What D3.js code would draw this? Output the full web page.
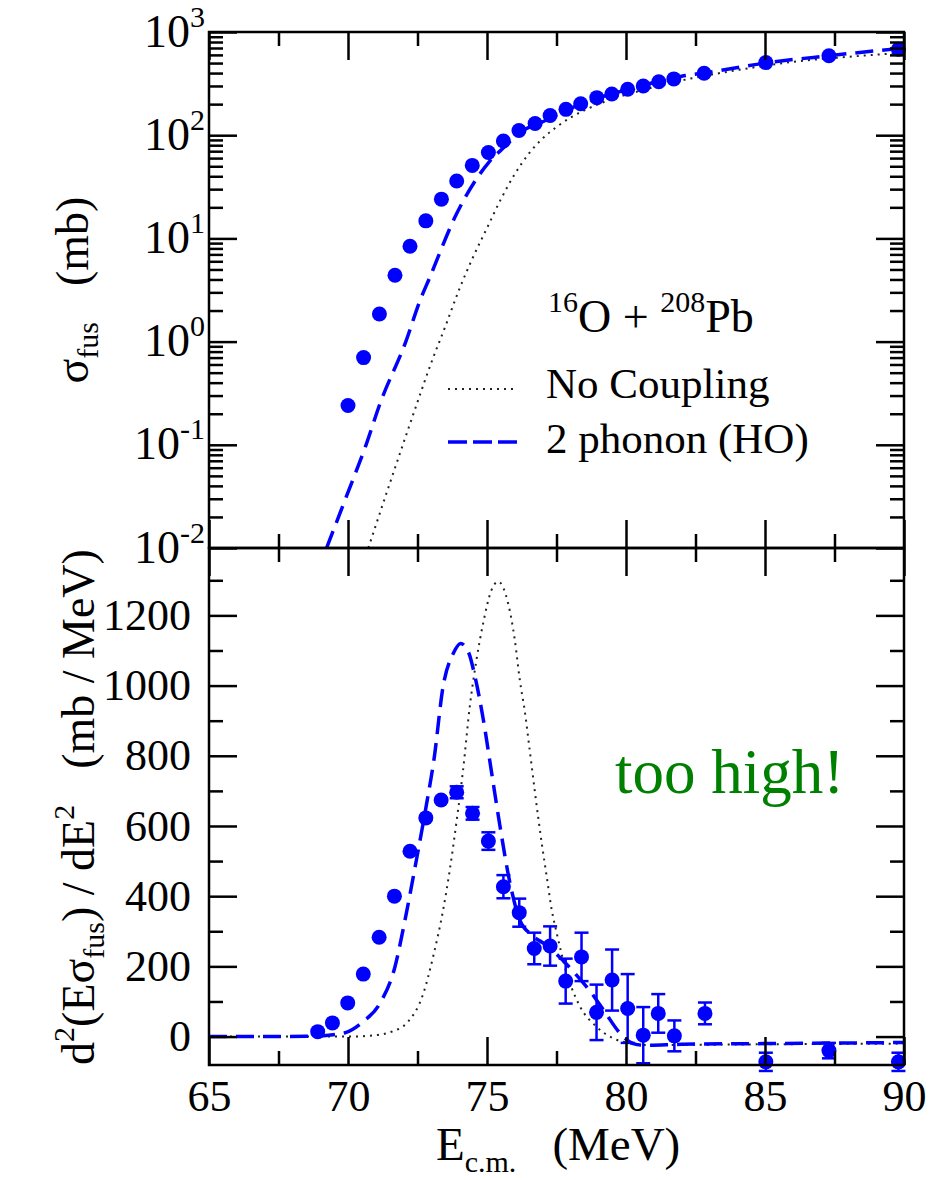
<!DOCTYPE html>
<html>
<head>
<meta charset="utf-8">
<script src="https://cdn.jsdelivr.net/npm/d3@7"></script>
<style>
  body { margin: 0; background: #fff; }
  svg text { font-family: "Liberation Serif", "Times New Roman", Tinos, "Nimbus Roman", "DejaVu Serif", serif; fill: #000; }
</style>
</head>
<body>
<svg id="chart" width="944" height="1180"></svg>
<script>
// fusion cross section data (mb)
let sigE = [70.0, 70.56, 71.13, 71.69, 72.23, 72.8, 73.36, 73.91, 74.47, 75.05, 75.59, 76.15, 76.73,
            77.27, 77.84, 78.37, 78.95, 79.49, 80.06, 80.62, 81.18, 81.72, 82.81, 85.03, 87.3, 89.8];
let sigVal = [0.24, 0.70, 1.85, 4.4, 8.4, 14.8, 24, 36, 51, 68, 88, 111, 130,
              155, 178, 202, 231, 251, 279, 300, 330, 351, 398, 505, 589, 680];

// barrier distribution data (mb / MeV)
let barE = [68.91, 69.44, 69.99, 70.55, 71.12, 71.67, 72.23, 72.8, 73.35, 73.91, 74.48, 75.05, 75.59, 76.16,
            76.7, 77.27, 77.83, 78.4, 78.94, 79.5, 80.06, 80.62, 81.16, 81.74, 82.84, 85.03, 87.3, 89.8];
let barVal = [14, 39, 96, 178, 283, 400, 528, 623, 674, 696, 636, 557, 427, 353,
              251, 258, 158, 227, 69, 161, 80, 4, 66, 2, 66, -72, -40, -72];
let barErr = [0, 0, 0, 0, 0, 0, 0, 0, 0, 17, 18, 25, 33, 40,
              45, 56, 64, 69, 79, 87, 98, 80, 55, 44, 31, 26, 22, 26];

// calculations, cross section
let noCoupE = [70.73, 71.5, 72.0, 72.5, 73.0, 73.5, 74.0, 74.5, 75.0, 75.5, 76.0, 76.5, 77.0,
               77.5, 78.0, 78.5, 79.5, 80.5, 82, 84, 86, 88, 90];
let noCoupSig = [0.01, 0.042, 0.105, 0.26, 0.63, 1.4, 3.2, 6.6, 12.6, 24, 42, 66, 93,
                 120, 148, 174, 224, 269, 339, 427, 513, 575, 630];
let phonE = [69.23, 69.95, 70.65, 71.15, 72.08, 72.59, 72.91, 73.91, 75.05, 75.65, 76.15, 77, 78,
             79, 80, 81, 82, 83, 85, 87.3, 90];
let phonSig = [0.01, 0.032, 0.1, 0.25, 1.0, 2.5, 4.0, 17.4, 54, 78, 105, 135, 182,
               229, 275, 324, 372, 407, 500, 589, 700];

// calculations, barrier distribution
let noCoupBarE = [65, 70, 71, 71.6, 72.11, 72.71, 73.06, 73.42, 73.66, 73.9, 74.14, 74.38, 74.62, 74.86,
                  75.16, 75.4, 75.76, 76.0, 76.18, 76.37, 76.55, 76.73, 76.97, 77.15, 77.33, 77.51, 77.87,
                  78.35, 78.94, 79.54, 80.2, 80.74, 85, 90];
let noCoupBarVal = [0, 0, 4, 15, 38, 123, 227, 360, 474, 610, 760, 940, 1073, 1177,
                    1272, 1296, 1234, 1130, 1016, 921, 807, 693, 550, 455, 360, 294, 180,
                    85, 28, -5, -20, -24, -22, -20];
let phonBarE = [65, 67.5, 68.5, 69.3, 69.94, 70.54, 71.15, 71.69, 72.05, 72.46, 72.82, 73.09, 73.42, 73.79,
                74.05, 74.33, 74.57, 74.87, 75.15, 75.47, 75.83, 76.19, 76.6, 77.14, 77.69, 78.22, 78.7,
                79.24, 79.78, 80.26, 80.7, 82, 85, 90];
let phonBarVal = [0, 0, 1, 4, 12, 42, 95, 199, 332, 503, 660, 788, 997, 1092,
                  1120, 1096, 1025, 902, 760, 598, 436, 330, 290, 260, 220, 175, 130,
                  70, 10, -20, -25, -22, -20, -17];

// ticks
let xTicks = [65, 70, 75, 80, 85, 90];
let xMinor = [67.5, 72.5, 77.5, 82.5, 87.5];
let logTicks = [1e-2, 1e-1, 1e0, 1e1, 1e2, 1e3];
let barTicks = [0, 200, 400, 600, 800, 1000, 1200];
let barMinor = [100, 300, 500, 700, 900, 1100, 1300];

let logMinor = [];
for (let e = -2; e < 3; e++) {
  for (let k = 2; k < 10; k++) logMinor.push(k * Math.pow(10, e));
}

let serif = '"Liberation Serif", "Times New Roman", Tinos, "Nimbus Roman", "DejaVu Serif", serif';
let svg = d3.select('#chart');
let plotL = 209, plotR = 904, topT = 32, midY = 548, botB = 1065;
let bigTick = 28, smallTick = 14;

let x = d3.scaleLinear().domain([65, 90]).range([plotL, plotR]);
let yTop = d3.scaleLog().domain([1e-2, 1e3]).range([midY, topT]);
let yBot = d3.scaleLinear().domain([-81, 1392]).range([botB, midY]);

let blue = '#0000ff';

// clip paths
let defs = svg.append('defs');
defs.append('clipPath').attr('id', 'clipTop').append('rect')
  .attr('x', plotL).attr('y', topT).attr('width', plotR - plotL).attr('height', midY - topT);
defs.append('clipPath').attr('id', 'clipBot').append('rect')
  .attr('x', plotL).attr('y', midY).attr('width', plotR - plotL).attr('height', botB - midY);

let lineTop = d3.line().x(d => x(d[0])).y(d => yTop(d[1])).curve(d3.curveMonotoneX);
let lineBot = d3.line().x(d => x(d[0])).y(d => yBot(d[1])).curve(d3.curveMonotoneX);

function dotted(sel) {
  sel.attr('fill', 'none').attr('stroke', '#222').attr('stroke-width', 2)
    .attr('stroke-dasharray', '2,5');
}
function dashed(sel) {
  sel.attr('fill', 'none').attr('stroke', blue).attr('stroke-width', 3.5)
    .attr('stroke-dasharray', '18,9');
}

// ---- top panel
let gTop = svg.append('g').attr('clip-path', 'url(#clipTop)');
gTop.append('path').attr('d', lineTop(d3.zip(noCoupE, noCoupSig))).call(dotted);
gTop.append('path').attr('d', lineTop(d3.zip(phonE, phonSig))).call(dashed);

svg.append('g').selectAll('circle')
  .data(d3.zip(sigE, sigVal))
  .enter().append('circle')
  .attr('cx', d => x(d[0]))
  .attr('cy', d => yTop(d[1]))
  .attr('r', 7.5)
  .attr('fill', blue);

// ---- bottom panel
let gBot = svg.append('g').attr('clip-path', 'url(#clipBot)');
gBot.append('path').attr('d', lineBot(d3.zip(noCoupBarE, noCoupBarVal))).call(dotted);
gBot.append('path').attr('d', lineBot(d3.zip(phonBarE, phonBarVal))).call(dashed);

let barData = barE.map((e, i) => ({e: e, v: barVal[i], err: barErr[i]}));
let errG = svg.append('g').attr('stroke', blue).attr('stroke-width', 2.5);
barData.filter(d => d.err > 0).forEach(function(d) {
  let cx = x(d.e);
  errG.append('line').attr('x1', cx).attr('x2', cx)
    .attr('y1', yBot(d.v - d.err)).attr('y2', yBot(d.v + d.err));
  errG.append('line').attr('x1', cx - 7).attr('x2', cx + 7)
    .attr('y1', yBot(d.v - d.err)).attr('y2', yBot(d.v - d.err));
  errG.append('line').attr('x1', cx - 7).attr('x2', cx + 7)
    .attr('y1', yBot(d.v + d.err)).attr('y2', yBot(d.v + d.err));
});
svg.append('g').selectAll('circle')
  .data(barData)
  .enter().append('circle')
  .attr('cx', d => x(d.e))
  .attr('cy', d => yBot(d.v))
  .attr('r', 7.5)
  .attr('fill', blue);

// ---- axes
function addAxis(axis, tx, ty, size, values, fmt) {
  let g = svg.append('g').attr('transform', 'translate(' + tx + ',' + ty + ')')
    .call(axis.tickValues(values).tickSize(-size).tickFormat(fmt || ''));
  g.select('.domain').remove();
  g.selectAll('line').attr('stroke', '#000').attr('stroke-width', 2.5);
  g.attr('font-family', serif).attr('font-size', 44);
  return g;
}

// top panel
addAxis(d3.axisTop(x), 0, topT, bigTick, xTicks);
addAxis(d3.axisTop(x), 0, topT, smallTick, xMinor);
addAxis(d3.axisBottom(x), 0, midY, bigTick, xTicks);
addAxis(d3.axisBottom(x), 0, midY, smallTick, xMinor);
addAxis(d3.axisRight(yTop), plotR, 0, bigTick, logTicks);
addAxis(d3.axisRight(yTop), plotR, 0, smallTick, logMinor);
addAxis(d3.axisLeft(yTop), plotL, 0, smallTick, logMinor);
let yTopAxis = addAxis(d3.axisLeft(yTop).tickPadding(4), plotL, 0, bigTick, logTicks, () => '');
yTopAxis.selectAll('.tick text').each(function(d) {
  let t = d3.select(this);
  t.append('tspan').attr('font-size', 46).text('10');
  t.append('tspan').attr('font-size', 30).attr('dy', -20).text(Math.round(Math.log10(d)));
});

// bottom panel
addAxis(d3.axisTop(x), 0, midY, bigTick, xTicks);
addAxis(d3.axisTop(x), 0, midY, smallTick, xMinor);
addAxis(d3.axisBottom(x).tickPadding(15), 0, botB, bigTick, xTicks, d3.format('d'));
addAxis(d3.axisBottom(x), 0, botB, smallTick, xMinor);
addAxis(d3.axisLeft(yBot).tickPadding(18), plotL, 0, bigTick, barTicks, d3.format('d'));
addAxis(d3.axisLeft(yBot), plotL, 0, smallTick, barMinor);
addAxis(d3.axisRight(yBot), plotR, 0, bigTick, barTicks);
addAxis(d3.axisRight(yBot), plotR, 0, smallTick, barMinor);

// frames
[[topT, midY], [midY, botB]].forEach(function(r) {
  svg.append('rect').attr('x', plotL).attr('y', r[0])
    .attr('width', plotR - plotL).attr('height', r[1] - r[0])
    .attr('fill', 'none').attr('stroke', '#000').attr('stroke-width', 2.5);
});

// ---- axis titles
let yt = svg.append('text').attr('transform', 'translate(88,290) rotate(-90)')
  .attr('text-anchor', 'middle').attr('font-size', 46);
yt.append('tspan').text('σ');
yt.append('tspan').attr('font-size', 30).attr('dy', 10).text('fus');
yt.append('tspan').attr('dx', 36).attr('dy', -10).text('(mb)');

let yb = svg.append('text').attr('transform', 'translate(94,807) rotate(-90)')
  .attr('text-anchor', 'middle').attr('font-size', 46);
yb.append('tspan').text('d');
yb.append('tspan').attr('font-size', 30).attr('dy', -20).text('2');
yb.append('tspan').attr('dy', 20).text('(Eσ');
yb.append('tspan').attr('font-size', 30).attr('dy', 10).text('fus');
yb.append('tspan').attr('dy', -10).text(') / dE');
yb.append('tspan').attr('font-size', 30).attr('dy', -20).text('2');
yb.append('tspan').attr('dx', 36).attr('dy', 20).text('(mb / MeV)');

let xt = svg.append('text').attr('x', 436).attr('y', 1160).attr('font-size', 47);
xt.append('tspan').text('E');
xt.append('tspan').attr('font-size', 30).attr('dy', 12).text('c.m.');
xt.append('tspan').attr('dx', 36).attr('dy', -12).text('(MeV)');

// ---- reaction label and legend
let rl = svg.append('text').attr('x', 548).attr('y', 332).attr('font-size', 46);
rl.append('tspan').attr('font-size', 30).attr('dy', -20).text('16');
rl.append('tspan').attr('dy', 20).text('O + ');
rl.append('tspan').attr('font-size', 30).attr('dy', -20).text('208');
rl.append('tspan').attr('dy', 20).text('Pb');

svg.append('line').attr('x1', 448).attr('x2', 517).attr('y1', 389).attr('y2', 389).call(dotted);
svg.append('text').attr('x', 546).attr('y', 398).attr('font-size', 43).text('No Coupling');
svg.append('line').attr('x1', 448).attr('x2', 517).attr('y1', 442).attr('y2', 442)
  .call(dashed).attr('stroke-dasharray', '19,6');
svg.append('text').attr('x', 546).attr('y', 453).attr('font-size', 43).text('2 phonon (HO)');

svg.append('text').attr('x', 615).attr('y', 793).attr('font-size', 63)
  .style('fill', '#008000').text('too high!');
</script>
</body>
</html>
